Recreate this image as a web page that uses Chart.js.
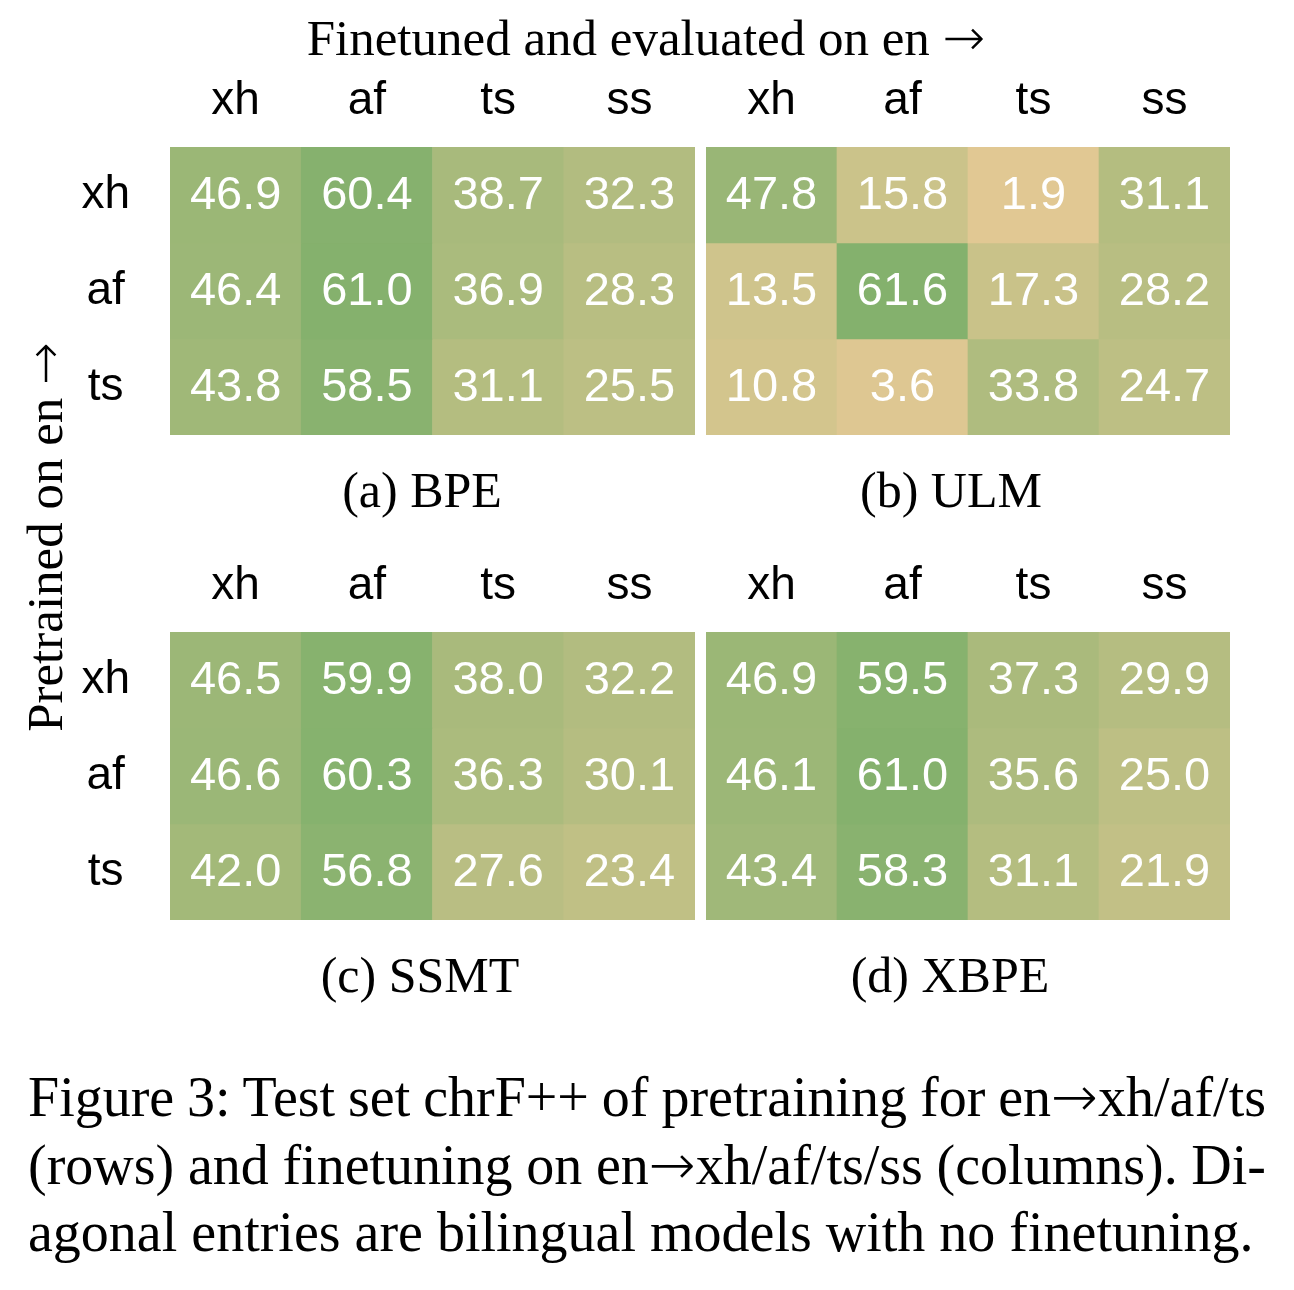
<!DOCTYPE html>
<html>
<head>
<meta charset="utf-8">
<script src="https://cdn.jsdelivr.net/npm/chart.js@4"></script>
<style>
  html, body { margin: 0; padding: 0; background: #fff; }
  body { width: 1294px; height: 1290px; position: relative; overflow: hidden; }
  canvas { position: absolute; }
  .serif { font-family: "Liberation Serif", "Times New Roman", serif; color: #000; position: absolute; white-space: nowrap; }
  .arr { font-family: "DejaVu Sans", sans-serif; font-weight: 200; }
  .title { font-size: 51px; line-height: 50px; }
  .sub { font-size: 50px; line-height: 50px; transform: translateX(-50%); }
  .ylab { font-size: 51px; line-height: 50px; width: 500px; height: 50px; text-align: center; transform: rotate(-90deg); }
  .cap { font-size: 56px; line-height: 67px; left: 28px; width: 1238px; }
  .cap div { text-align: justify; text-align-last: justify; white-space: nowrap; word-spacing: -5px; }
  .cap div.last { text-align-last: left; word-spacing: 0; }
</style>
</head>
<body>
<div class="serif title" style="left:646px; top:13px; transform: translateX(-50%);">Finetuned and evaluated on en <span class="arr">&#8594;</span></div>
<div class="serif ylab" style="left:-205px; top:512px;">Pretrained on en <span class="arr">&#8594;</span></div>

<canvas id="pA" width="660" height="400" style="left:40px; top:40px;"></canvas>
<canvas id="pB" width="540" height="400" style="left:700px; top:40px;"></canvas>
<canvas id="pC" width="660" height="400" style="left:40px; top:525px;"></canvas>
<canvas id="pD" width="540" height="400" style="left:700px; top:525px;"></canvas>

<div class="serif sub" style="left:422px; top:465px;">(a) BPE</div>
<div class="serif sub" style="left:951px; top:465px;">(b) ULM</div>
<div class="serif sub" style="left:420px; top:950px;">(c) SSMT</div>
<div class="serif sub" style="left:950px; top:950px;">(d) XBPE</div>

<div class="serif cap" style="top:1063px;">
  <div>Figure 3: Test set chrF++ of pretraining for en<span class="arr">&#8594;</span>xh/af/ts</div>
  <div>(rows) and finetuning on en<span class="arr">&#8594;</span>xh/af/ts/ss (columns). Di-</div>
  <div class="last">agonal entries are bilingual models with no finetuning.</div>
</div>

<script>
// Column (finetuned/evaluated) and row (pretrained) languages
const columns = ['xh', 'af', 'ts', 'ss'];
const rows = ['xh', 'af', 'ts'];

// chrF++ values, one row per pretraining language
const bpe = [
  [46.9, 60.4, 38.7, 32.3],
  [46.4, 61.0, 36.9, 28.3],
  [43.8, 58.5, 31.1, 25.5]
];
const ulm = [
  [47.8, 15.8, 1.9, 31.1],
  [13.5, 61.6, 17.3, 28.2],
  [10.8, 3.6, 33.8, 24.7]
];
const ssmt = [
  [46.5, 59.9, 38.0, 32.2],
  [46.6, 60.3, 36.3, 30.1],
  [42.0, 56.8, 27.6, 23.4]
];
const xbpe = [
  [46.9, 59.5, 37.3, 29.9],
  [46.1, 61.0, 35.6, 25.0],
  [43.4, 58.3, 31.1, 21.9]
];

const allVals = [bpe, ulm, ssmt, xbpe].flat(2);
const vmin = Math.min(...allVals);
const vmax = Math.max(...allVals);
const lowColor = [225, 200, 147];
const highColor = [132, 177, 109];
function colorFor(v) {
  const t = (v - vmin) / (vmax - vmin);
  const c = lowColor.map((lo, i) => Math.round(lo + (highColor[i] - lo) * t));
  return `rgb(${c[0]},${c[1]},${c[2]})`;
}

const sansFont = '"Liberation Sans", Arial, Helvetica, sans-serif';

const valueLabels = {
  id: 'valueLabels',
  afterDatasetsDraw(chart) {
    const ctx = chart.ctx;
    ctx.save();
    ctx.font = '47px ' + sansFont;
    ctx.fillStyle = '#ffffff';
    ctx.textAlign = 'center';
    ctx.textBaseline = 'middle';
    chart.data.datasets.forEach((ds, di) => {
      chart.getDatasetMeta(di).data.forEach((el, j) => {
        const p = el.getCenterPoint();
        ctx.fillText(ds.values[j].toFixed(1), p.x, p.y + 1);
      });
    });
    ctx.restore();
  }
};

function noPad(s) {
  s.paddingTop = 0; s.paddingBottom = 0; s.paddingLeft = 0; s.paddingRight = 0;
}

function makePanel(id, values, showY, padding) {
  return new Chart(document.getElementById(id), {
    type: 'bar',
    data: {
      labels: columns,
      datasets: rows.map((r, i) => ({
        label: r,
        data: columns.map(() => [i, i + 1]),
        values: values[i],
        backgroundColor: values[i].map(colorFor),
        borderWidth: 0,
        barPercentage: 1,
        categoryPercentage: 1,
        grouped: false
      }))
    },
    options: {
      responsive: false,
      animation: false,
      devicePixelRatio: 1,
      layout: { padding: padding },
      plugins: {
        legend: { display: false },
        tooltip: { enabled: false },
        title: { display: false }
      },
      scales: {
        x: {
          position: 'top',
          grid: { display: false, drawTicks: false },
          border: { display: false },
          ticks: { color: '#000', font: { family: sansFont, size: 46 }, padding: 18, maxRotation: 0 },
          afterFit: (s) => { s.height = 107; noPad(s); }
        },
        y: {
          display: showY,
          reverse: true,
          min: 0,
          max: 3,
          grid: { display: false, drawTicks: false },
          border: { display: false },
          afterBuildTicks: (s) => { s.ticks = rows.map((_, i) => ({ value: i + 0.5 })); },
          ticks: {
            color: '#000',
            font: { family: sansFont, size: 46 },
            crossAlign: 'center',
            padding: 40,
            callback: (v, idx) => rows[idx]
          },
          afterFit: (s) => { s.width = showY ? 130 : 0; noPad(s); }
        }
      }
    },
    plugins: [valueLabels]
  });
}

makePanel('pA', bpe, true, { left: 0, right: 5, top: 0, bottom: 5 });
makePanel('pB', ulm, false, { left: 6, right: 10, top: 0, bottom: 5 });
makePanel('pC', ssmt, true, { left: 0, right: 5, top: 0, bottom: 5 });
makePanel('pD', xbpe, false, { left: 6, right: 10, top: 0, bottom: 5 });
</script>
</body>
</html>
